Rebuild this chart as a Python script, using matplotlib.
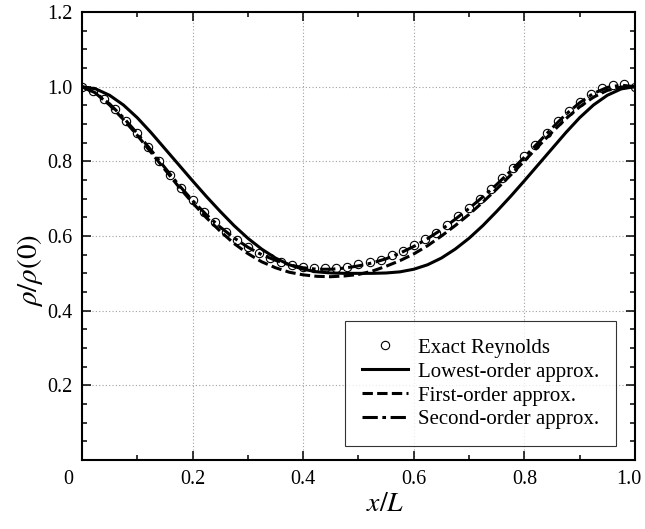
import numpy as np
import matplotlib
matplotlib.use('Agg')
import matplotlib.pyplot as plt
from matplotlib.ticker import MultipleLocator
from matplotlib.transforms import ScaledTranslation

plt.rcParams['font.family'] = ['Liberation Serif', 'DejaVu Serif']
plt.rcParams['mathtext.fontset'] = 'stix'

x_exact = np.linspace(0, 1, 51)
rho_exact = [1.000, 0.988, 0.967, 0.940, 0.909, 0.875, 0.839, 0.802, 0.764, 0.729,
             0.696, 0.665, 0.637, 0.612, 0.590, 0.571, 0.555, 0.541, 0.530, 0.522,
             0.516, 0.513, 0.513, 0.514, 0.518, 0.524, 0.530, 0.537, 0.548, 0.560,
             0.575, 0.592, 0.609, 0.630, 0.653, 0.676, 0.700, 0.726, 0.755, 0.783,
             0.813, 0.845, 0.877, 0.907, 0.935, 0.960, 0.980, 0.996, 1.005, 1.007,
             1.000]

# approximations, read off at steps of 0.025
x_line = np.linspace(0, 1, 41)
rho_lowest = [1.000, 0.994, 0.977, 0.951, 0.917, 0.877, 0.834, 0.791, 0.748, 0.706,
              0.666, 0.628, 0.594, 0.565, 0.541, 0.523, 0.511, 0.504, 0.501, 0.500,
              0.500, 0.500, 0.501, 0.504, 0.511, 0.523, 0.541, 0.565, 0.594, 0.628,
              0.666, 0.706, 0.748, 0.791, 0.834, 0.877, 0.917, 0.951, 0.977, 0.994,
              1.000]
rho_first = [1.000, 0.982, 0.951, 0.912, 0.870, 0.824, 0.778, 0.732, 0.689, 0.649,
             0.613, 0.580, 0.553, 0.531, 0.515, 0.503, 0.496, 0.492, 0.491, 0.493,
             0.497, 0.506, 0.519, 0.534, 0.552, 0.574, 0.600, 0.628, 0.658, 0.691,
             0.726, 0.763, 0.801, 0.840, 0.878, 0.914, 0.946, 0.972, 0.990, 0.999,
             1.000]
rho_second = [1.000, 0.983, 0.954, 0.917, 0.875, 0.830, 0.783, 0.737, 0.695, 0.657,
              0.624, 0.595, 0.570, 0.550, 0.535, 0.523, 0.515, 0.511, 0.511, 0.514,
              0.520, 0.528, 0.539, 0.554, 0.572, 0.593, 0.617, 0.645, 0.674, 0.705,
              0.738, 0.774, 0.811, 0.850, 0.889, 0.926, 0.957, 0.982, 0.998, 1.004,
              1.000]

fig = plt.figure(figsize=(6.45, 5.29), dpi=100)
ax = fig.add_axes([0.127, 0.1304, 0.8575, 0.8469])

ax.plot(x_exact, rho_exact, 'o', ms=6, mfc='white', mec='k', mew=0.8,
        label='Exact Reynolds')
ax.plot(x_line, rho_lowest, 'k-', lw=2.2, label='Lowest-order approx.')
ax.plot(x_line, rho_first, 'k', lw=2.2, ls=(0, (3.4, 1.4)), label='First-order approx.')
ax.plot(x_line, rho_second, 'k', lw=2.2, ls=(0, (5, 1.5, 1.2, 1.5)),
        label='Second-order approx.')

ax.set_xlim(0, 1)
ax.set_ylim(0, 1.2)
ax.set_xticks([0, 0.2, 0.4, 0.6, 0.8, 1.0], ['', '0.2', '0.4', '0.6', '0.8', '1.0'])
ax.set_yticks([0, 0.2, 0.4, 0.6, 0.8, 1.0, 1.2], ['', '0.2', '0.4', '0.6', '0.8', '1.0', '1.2'])
ax.xaxis.set_minor_locator(MultipleLocator(0.1))
ax.yaxis.set_minor_locator(MultipleLocator(0.05))
ax.tick_params(which='both', direction='in', top=True, right=True, width=1.1,
               labelsize=14.5, pad=7)
ax.tick_params(which='major', length=6.5)
ax.tick_params(which='minor', length=3.6)
for s in ax.spines.values():
    s.set_linewidth(1.5)
ax.grid(True, which='major', color='#a0a0a0', ls=(0, (1, 2)), lw=0.8)

# last x label sits at the right edge, nudge it in a bit
last = ax.get_xticklabels()[-1]
last.set_transform(last.get_transform() + ScaledTranslation(-0.06, 0, fig.dpi_scale_trans))

# corner zero label
ax.annotate('0', xy=(0, 0), xycoords='data', xytext=(-10, -7), textcoords='offset points',
            ha='center', va='top', fontsize=14.5)

ax.set_xlabel(r'$x/L$', fontsize=20, labelpad=2)
ax.set_ylabel(r'$\rho/\rho(0)$', fontsize=21, labelpad=1)
ax.xaxis.label.set_x(0.548)
ax.yaxis.label.set_y(0.424)

leg = ax.legend(loc='lower right', bbox_to_anchor=(0.966, 0.031), borderaxespad=0,
                fontsize=15, frameon=True, fancybox=False, edgecolor='k',
                handlelength=2.2, handletextpad=0.5, labelspacing=0.21, borderpad=0.8)
leg.get_frame().set_linewidth(0.8)

plt.savefig('out.png', dpi=100)
